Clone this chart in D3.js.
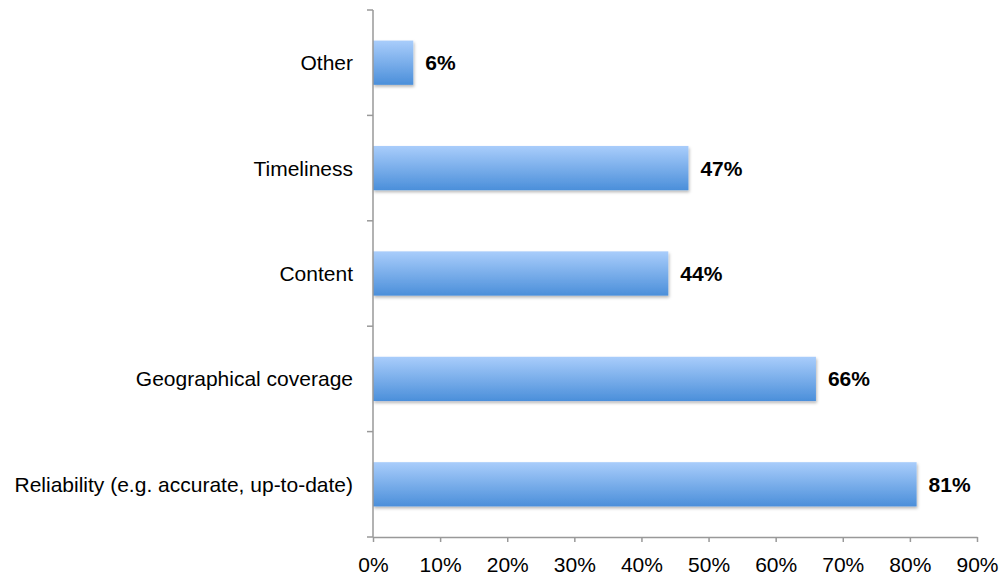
<!DOCTYPE html>
<html>
<head>
<meta charset="utf-8">
<script src="https://cdn.jsdelivr.net/npm/d3@7"></script>
<style>
  html, body { margin: 0; padding: 0; background: #fff; }
  svg { display: block; font-family: "Liberation Sans", Arial, sans-serif; }
</style>
</head>
<body>
<svg id="chart" width="1004" height="576"></svg>
<script>
// Share of respondents per attribute (top to bottom as displayed)
const categories = ["Other", "Timeliness", "Content", "Geographical coverage", "Reliability (e.g. accurate, up-to-date)"];
const values = [6, 47, 44, 66, 81];
const tickValues = [0, 10, 20, 30, 40, 50, 60, 70, 80, 90];

const svg = d3.select("#chart");
const margin = { left: 373, right: 27, top: 10, bottom: 39 };
const W = 1004, H = 576;
const FS = 21;

const x = d3.scaleLinear().domain([0, 90]).range([margin.left, W - margin.right]);
const y = d3.scaleBand().domain(categories).range([margin.top, H - margin.bottom]).paddingInner(0.58).paddingOuter(0.29);

const defs = svg.append("defs");
const grad = defs.append("linearGradient").attr("id", "barFill").attr("x1", 0).attr("y1", 0).attr("x2", 0).attr("y2", 1);
grad.append("stop").attr("offset", "0%").attr("stop-color", "#a9cdfb");
grad.append("stop").attr("offset", "100%").attr("stop-color", "#4b8fda");

const shadow = defs.append("filter").attr("id", "shadow").attr("x", "-5%").attr("y", "-20%").attr("width", "115%").attr("height", "160%");
shadow.append("feDropShadow").attr("dx", 1).attr("dy", 2).attr("stdDeviation", 1.5).attr("flood-color", "#000").attr("flood-opacity", 0.28);

// Bars
svg.append("g").selectAll("rect").data(categories).join("rect")
  .attr("x", x(0))
  .attr("y", d => y(d))
  .attr("width", (d, i) => x(values[i]) - x(0))
  .attr("height", y.bandwidth())
  .attr("fill", "url(#barFill)")
  .attr("filter", "url(#shadow)");

// Value labels
svg.append("g").selectAll("text").data(categories).join("text")
  .attr("x", (d, i) => x(values[i]) + 12)
  .attr("y", d => y(d) + y.bandwidth() / 2)
  .attr("dy", "0.36em")
  .attr("font-size", FS)
  .attr("font-weight", "bold")
  .attr("fill", "#000")
  .text((d, i) => values[i] + "%");

// X axis
const xAxis = svg.append("g").attr("transform", `translate(0,${H - margin.bottom})`)
  .call(d3.axisBottom(x).tickValues(tickValues).tickFormat(d => d + "%").tickSize(5).tickSizeOuter(0));
xAxis.select(".domain").attr("stroke", "#999").attr("stroke-width", 1.5);
xAxis.selectAll(".tick line").attr("stroke", "#999").attr("stroke-width", 1.5);
xAxis.selectAll(".tick text").attr("font-size", FS).attr("fill", "#000").attr("dy", 0).attr("y", 35)
  .attr("font-family", "Liberation Sans, Arial, sans-serif");

// Y axis: category separators as ticks
const yAxisG = svg.append("g").attr("transform", `translate(${margin.left},0)`);
yAxisG.append("line").attr("x1", 0).attr("x2", 0).attr("y1", margin.top).attr("y2", H - margin.bottom)
  .attr("stroke", "#999").attr("stroke-width", 1.5);
const bounds = d3.range(categories.length + 1).map(i => margin.top + i * (H - margin.top - margin.bottom) / categories.length);
yAxisG.selectAll("line.sep").data(bounds).join("line").attr("class", "sep")
  .attr("x1", -6).attr("x2", 0).attr("y1", d => d).attr("y2", d => d)
  .attr("stroke", "#999").attr("stroke-width", 1.5);

// Category labels
svg.append("g").selectAll("text").data(categories).join("text")
  .attr("x", margin.left - 20)
  .attr("y", d => y(d) + y.bandwidth() / 2)
  .attr("dy", "0.36em")
  .attr("text-anchor", "end")
  .attr("font-size", FS)
  .attr("fill", "#000")
  .text(d => d);
</script>
</body>
</html>
